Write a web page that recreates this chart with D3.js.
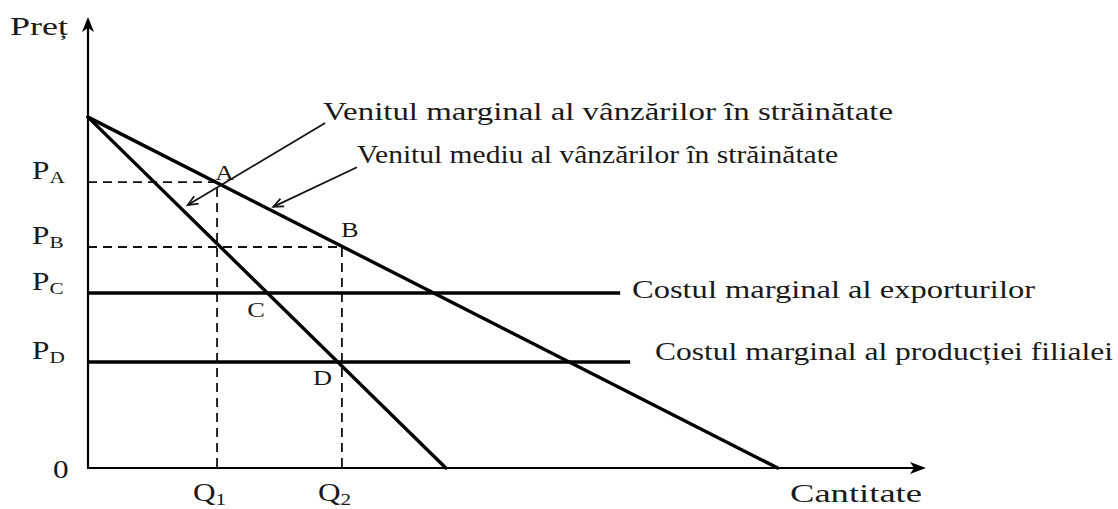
<!DOCTYPE html>
<html>
<head>
<meta charset="utf-8">
<script src="https://cdn.jsdelivr.net/npm/d3@7"></script>
<style>
  body { margin: 0; background: #fff; }
  text { font-family: "Liberation Serif", "Times New Roman", serif; fill: #1a1a1a; }
</style>
</head>
<body>
<svg id="chart" width="1118" height="509"></svg>
<script>
// quantity / price values (abstract units, 0-100)
var revenueNames = ["Venitul marginal al vânzărilor în străinătate", "Venitul mediu al vânzărilor în străinătate"];
var revenueIntercept = [77.8, 77.8];   // price where each line meets the axis
var revenueEndQty = [42.7, 82.3];      // quantity where each line hits zero

var priceLabels = ["A", "B", "C", "D"];
var priceValues = [63.4, 49.0, 38.8, 23.5];

var qtyLabels = ["1", "2"];
var qtyValues = [15.4, 30.3];

var costNames = ["Costul marginal al exporturilor", "Costul marginal al producției filialei"];
var costValues = [38.8, 23.5];
var costEndQty = [63.5, 64.7];

var pointNames = ["A", "B", "C", "D"];
var pointQty = [15.4, 30.3, 21.5, 30.3];
var pointPrice = [63.4, 49.0, 38.8, 23.5];

var svg = d3.select("#chart");

var x = d3.scaleLinear().domain([0, 100]).range([88, 926]);
var y = d3.scaleLinear().domain([0, 100]).range([468, 17]);

// dashed guides for A and B
var guides = [0, 1].map(i => ({ q: qtyValues[i], p: priceValues[i] }));
guides.forEach(function(g) {
    svg.append("path")
        .attr("d", d3.line()([[x(0), y(g.p)], [x(g.q), y(g.p)], [x(g.q), y(0)]]))
        .attr("fill", "none")
        .attr("stroke", "#111")
        .attr("stroke-width", 1.8)
        .attr("stroke-dasharray", "9,6");
});

// horizontal cost lines
costValues.forEach(function(v, i) {
    svg.append("line")
        .attr("x1", x(0)).attr("x2", x(costEndQty[i]))
        .attr("y1", y(v)).attr("y2", y(v))
        .attr("stroke", "#000")
        .attr("stroke-width", 3.5);
});

// revenue lines
revenueIntercept.forEach(function(p0, i) {
    svg.append("line")
        .attr("x1", x(0)).attr("y1", y(p0))
        .attr("x2", x(revenueEndQty[i])).attr("y2", y(0))
        .attr("stroke", "#000")
        .attr("stroke-width", 3.4)
        .attr("stroke-linecap", "round");
});

// axes
svg.append("line")
    .attr("x1", x(0)).attr("y1", y(0)).attr("x2", x(0)).attr("y2", y(100) + 8)
    .attr("stroke", "#000").attr("stroke-width", 2.2);
svg.append("line")
    .attr("x1", x(0) - 1).attr("y1", y(0)).attr("x2", x(100) - 8).attr("y2", y(0))
    .attr("stroke", "#000").attr("stroke-width", 2);

// arrow heads of the axes
svg.append("path")
    .attr("d", `M${x(0)},${y(100)} L${x(0) - 6},${y(100) + 15} L${x(0)},${y(100) + 11} L${x(0) + 6},${y(100) + 15} Z`)
    .attr("fill", "#000");
svg.append("path")
    .attr("d", `M${x(100)},${y(0)} L${x(100) - 16},${y(0) - 6} L${x(100) - 12},${y(0)} L${x(100) - 16},${y(0) + 6} Z`)
    .attr("fill", "#000");

// annotation arrows (thin line, open head)
var notes = [
    { from: [28.3, 76.5], to: [11.9, 58.3] },
    { from: [32.1, 66.7], to: [22.1, 57.9] }
];
notes.forEach(function(n) {
    var x1 = x(n.from[0]), y1 = y(n.from[1]), x2 = x(n.to[0]), y2 = y(n.to[1]);
    var ang = Math.atan2(y2 - y1, x2 - x1);
    var len = 11, spread = 0.4;
    svg.append("line")
        .attr("x1", x1).attr("y1", y1).attr("x2", x2).attr("y2", y2)
        .attr("stroke", "#111").attr("stroke-width", 1.7);
    svg.append("path")
        .attr("d", d3.line()([
            [x2 - len * Math.cos(ang - spread), y2 - len * Math.sin(ang - spread)],
            [x2, y2],
            [x2 - len * Math.cos(ang + spread), y2 - len * Math.sin(ang + spread)]
        ]))
        .attr("fill", "none").attr("stroke", "#111").attr("stroke-width", 1.7);
});

// text helpers
function label(txt, px, py, size, width) {
    var t = svg.append("text")
        .attr("x", px).attr("y", py)
        .attr("font-size", size)
        .text(txt);
    if (width) t.attr("textLength", width).attr("lengthAdjust", "spacingAndGlyphs");
    return t;
}

label("Preț", 10, 35, 25, 58);
label("Cantitate", 790, 502, 25, 132);
svg.append("text")
    .attr("transform", "translate(53,478) scale(1.25,1)")
    .attr("font-size", 25)
    .text("0");

revenueNames.forEach(function(name, i) {
    var pos = [[323, 120, 570], [357, 163, 481]][i];
    label(name, pos[0], pos[1], 25, pos[2]);
});

costNames.forEach(function(name, i) {
    var pos = [[632, 298, 403], [655, 360, 458]][i];
    label(name, pos[0], pos[1], 25, pos[2]);
});

// price tick labels P with subscript
priceLabels.forEach(function(s, i) {
    var t = svg.append("text")
        .attr("transform", `translate(32,${y(priceValues[i]) - 3}) scale(1.25,1)`)
        .attr("font-size", 25);
    t.append("tspan").text("P");
    t.append("tspan").attr("font-size", 17).attr("dy", 4).text(s);
});

// quantity tick labels Q with subscript
qtyLabels.forEach(function(s, i) {
    var t = svg.append("text")
        .attr("transform", `translate(${x(qtyValues[i]) - 24},501) scale(1.25,1)`)
        .attr("font-size", 25);
    t.append("tspan").text("Q");
    t.append("tspan").attr("font-size", 17).attr("dy", 4).text(s);
});

// point letters
var pointOffsets = [[-2, -2], [-1, -10], [-21, 24], [-29, 23]];
pointNames.forEach(function(n, i) {
    svg.append("text")
        .attr("transform", `translate(${x(pointQty[i]) + pointOffsets[i][0]},${y(pointPrice[i]) + pointOffsets[i][1]}) scale(1.2,1)`)
        .attr("font-size", 22)
        .text(n);
});
</script>
</body>
</html>
